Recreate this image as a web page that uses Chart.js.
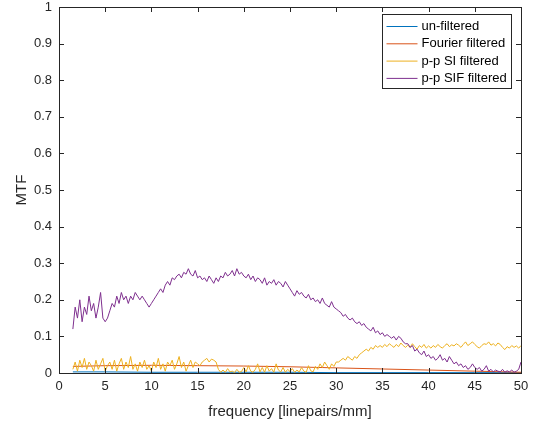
<!DOCTYPE html>
<html>
<head>
<meta charset="utf-8">
<script src="https://cdn.jsdelivr.net/npm/chart.js@4"></script>
<style>
  html, body { margin: 0; padding: 0; background: #fff; }
  #wrap { width: 537px; height: 427px; }
</style>
</head>
<body>
<div id="wrap"><canvas id="chart"></canvas></div>
<script>
// MTF curves, sampled every 0.25 lp/mm starting at 1.5 lp/mm
const freqStart = 1.5;
const freqStep = 0.25;

const sifFiltered = [
    0.12, 0.18, 0.15, 0.20, 0.14, 0.18, 0.16, 0.21, 0.17, 0.19, 0.15, 0.18, 0.22, 0.15, 0.14,
    0.15, 0.17, 0.19, 0.18, 0.21, 0.19, 0.22, 0.20, 0.21, 0.19,
    0.21, 0.20, 0.22, 0.21, 0.20, 0.21, 0.20, 0.19, 0.18, 0.19,
    0.20, 0.21, 0.22, 0.23, 0.22, 0.24, 0.25, 0.24, 0.26, 0.255,
    0.265, 0.27, 0.26, 0.275, 0.27, 0.285, 0.27, 0.265, 0.28, 0.26,
    0.265, 0.255, 0.26, 0.25, 0.265, 0.255, 0.245, 0.26, 0.25, 0.265,
    0.26, 0.275, 0.265, 0.27, 0.28, 0.265, 0.285, 0.27, 0.275, 0.265,
    0.26, 0.27, 0.255, 0.265, 0.25, 0.26, 0.255, 0.245, 0.26, 0.24,
    0.25, 0.245, 0.255, 0.24, 0.25, 0.245, 0.235, 0.25, 0.24, 0.23,
    0.22, 0.21, 0.225, 0.215, 0.22, 0.21, 0.205, 0.215, 0.20, 0.205,
    0.195, 0.20, 0.19, 0.205, 0.19, 0.185, 0.18, 0.195, 0.18, 0.175,
    0.17, 0.165, 0.155, 0.16, 0.15, 0.145, 0.15, 0.14, 0.135, 0.14,
    0.13, 0.135, 0.125, 0.12, 0.115, 0.125, 0.11, 0.115, 0.105, 0.11,
    0.10, 0.105, 0.10, 0.095, 0.10, 0.09, 0.10, 0.095, 0.085, 0.08,
    0.08, 0.07, 0.075, 0.06, 0.065, 0.055, 0.05, 0.06, 0.045, 0.05,
    0.04, 0.045, 0.035, 0.04, 0.05, 0.035, 0.04, 0.03, 0.045, 0.035,
    0.025, 0.03, 0.02, 0.025, 0.015, 0.02, 0.01, 0.015, 0.025, 0.015,
    0.01, 0.015, 0.005, 0.01, 0.02, 0.005, 0.01, 0.003, 0.008, 0.005,
    0.003, 0.01, 0.002, 0.006, 0.003, 0.008, 0.002, 0.005, 0.01, 0.03
];

const siFiltered = [
    0.01, 0.03, 0.005, 0.035, 0.015, 0.04, 0.01, 0.03, 0.02, 0.005, 0.035, 0.01, 0.025, 0.04, 0.005,
    0.02, 0.03, 0.01, 0.035, 0.005, 0.025, 0.04, 0.01, 0.03, 0.015,
    0.045, 0.01, 0.025, 0.005, 0.03, 0.015, 0.035, 0.01, 0.02, 0.005,
    0.03, 0.015, 0.04, 0.01, 0.025, 0.005, 0.03, 0.02, 0.035, 0.01,
    0.025, 0.045, 0.015, 0.03, 0.005, 0.02, 0.035, 0.015, 0.03, 0.025,
    0.02, 0.03, 0.035, 0.04, 0.03, 0.038, 0.035, 0.03, 0.01, 0.002,
    0.008, 0.002, 0.012, 0.003, 0.005, 0.001, 0.01, 0.002, 0.004, 0.015,
    0.003, 0.02, 0.005, 0.002, 0.01, 0.025, 0.003, 0.015, 0.002, 0.02,
    0.005, 0.012, 0.002, 0.025, 0.008, 0.003, 0.015, 0.002, 0.01, 0.004,
    0.012, 0.002, 0.008, 0.003, 0.015, 0.005, 0.002, 0.02, 0.006, 0.003,
    0.018, 0.01, 0.025, 0.015, 0.03, 0.02, 0.01, 0.025, 0.018, 0.03,
    0.03, 0.035, 0.04, 0.035, 0.045, 0.04, 0.035, 0.045, 0.04, 0.05,
    0.055, 0.06, 0.065, 0.06, 0.07, 0.065, 0.075, 0.07, 0.075, 0.07,
    0.078, 0.072, 0.08, 0.075, 0.07, 0.078, 0.072, 0.082, 0.075, 0.07,
    0.076, 0.07, 0.08, 0.072, 0.065, 0.075, 0.07, 0.078, 0.068, 0.074,
    0.068, 0.075, 0.07, 0.078, 0.072, 0.068, 0.075, 0.08, 0.072, 0.077,
    0.074, 0.08, 0.076, 0.07, 0.078, 0.085, 0.075, 0.08, 0.085, 0.078,
    0.072, 0.068, 0.075, 0.08, 0.078, 0.085, 0.076, 0.08, 0.074, 0.082,
    0.078, 0.07, 0.064, 0.072, 0.068, 0.075, 0.07, 0.074, 0.068, 0.075
];

// smooth curves, coarser sampling
const smoothFreq = [1.5, 5, 10, 15, 20, 25, 30, 35, 40, 45, 50];
const fourierFiltered = [0.018, 0.02, 0.021, 0.02, 0.019, 0.017, 0.014, 0.011, 0.008, 0.005, 0.002];
const unFiltered = [0.003, 0.003, 0.002, 0.002, 0.002, 0.002, 0.001, 0.001, 0.001, 0.001, 0.001];

const xTicks = [0, 5, 10, 15, 20, 25, 30, 35, 40, 45, 50];
const yTicks = [0, 0.1, 0.2, 0.3, 0.4, 0.5, 0.6, 0.7, 0.8, 0.9, 1];

const noisyFreq = sifFiltered.map((_, i) => freqStart + i * freqStep);
const toPoints = (xs, ys) => ys.map((y, i) => ({ x: xs[i], y: y }));

const axisColor = "#262626";
const fontFamily = "'Liberation Sans', Arial, sans-serif";

// box around the axes with inward ticks on all four sides
const boxTicks = {
    id: "boxTicks",
    afterDraw(chart) {
        const { ctx, chartArea: a, scales } = chart;
        const len = 5;
        ctx.save();
        ctx.strokeStyle = axisColor;
        ctx.lineWidth = 1;
        ctx.strokeRect(Math.round(a.left) + 0.5, Math.round(a.top) + 0.5,
            Math.round(a.right - a.left), Math.round(a.bottom - a.top));
        ctx.beginPath();
        xTicks.forEach(v => {
            const px = Math.round(scales.x.getPixelForValue(v)) + 0.5;
            ctx.moveTo(px, a.bottom); ctx.lineTo(px, a.bottom - len);
            ctx.moveTo(px, a.top); ctx.lineTo(px, a.top + len);
        });
        yTicks.forEach(v => {
            const py = Math.round(scales.y.getPixelForValue(v)) + 0.5;
            ctx.moveTo(a.left, py); ctx.lineTo(a.left + len, py);
            ctx.moveTo(a.right, py); ctx.lineTo(a.right - len, py);
        });
        ctx.stroke();
        ctx.restore();
    }
};

// legend box in the upper right corner of the axes
const boxLegend = {
    id: "boxLegend",
    afterDraw(chart) {
        const { ctx, chartArea: a } = chart;
        const sets = chart.data.datasets;
        ctx.save();
        ctx.font = "13px " + fontFamily;
        const textW = Math.max(...sets.map(d => ctx.measureText(d.label).width));
        const lineLen = 31, gap = 4, rowH = 17.3;
        const w = Math.round(4 + lineLen + gap + textW + 5);
        const h = Math.round(rowH * sets.length + 5);
        const x0 = Math.round(a.right - 10 - w) + 0.5;
        const y0 = Math.round(a.top + 7) + 0.5;
        ctx.fillStyle = "#fff";
        ctx.fillRect(x0, y0, w, h);
        ctx.strokeStyle = axisColor;
        ctx.lineWidth = 1;
        ctx.strokeRect(x0, y0, w, h);
        ctx.textBaseline = "middle";
        sets.forEach((d, i) => {
            const cy = y0 + 12 + i * rowH;
            ctx.strokeStyle = d.borderColor;
            ctx.beginPath();
            ctx.moveTo(x0 + 4, cy); ctx.lineTo(x0 + 4 + lineLen, cy);
            ctx.stroke();
            ctx.fillStyle = "#000";
            ctx.fillText(d.label, x0 + 4 + lineLen + gap, cy);
        });
        ctx.restore();
    }
};

const line = (label, color, pts, order) => ({
    label: label,
    data: pts,
    borderColor: color,
    backgroundColor: color,
    borderWidth: 1,
    pointRadius: 0,
    tension: 0,
    order: order
});

new Chart(document.getElementById("chart"), {
    type: "line",
    data: {
        datasets: [
            line("un-filtered", "#0072BD", toPoints(smoothFreq, unFiltered), 4),
            line("Fourier filtered", "#D95319", toPoints(smoothFreq, fourierFiltered), 3),
            line("p-p SI filtered", "#EDB120", toPoints(noisyFreq, siFiltered), 2),
            line("p-p SIF filtered", "#7E2F8E", toPoints(noisyFreq, sifFiltered), 1)
        ]
    },
    options: {
        responsive: true,
        maintainAspectRatio: false,
        animation: false,
        layout: { padding: { left: 0, right: 16, top: 7, bottom: 0 } },
        plugins: {
            legend: { display: false },
            tooltip: { enabled: false }
        },
        scales: {
            x: {
                type: "linear",
                min: 0,
                max: 50,
                afterFit: s => { s.height = 54; s.paddingLeft = 0; s.paddingRight = 0; },
                afterBuildTicks: s => { s.ticks = xTicks.map(v => ({ value: v })); },
                grid: { drawOnChartArea: false, drawTicks: false },
                border: { display: false },
                ticks: { color: axisColor, padding: 6, maxRotation: 0, font: { family: fontFamily, size: 13 } },
                title: {
                    display: true,
                    text: "frequency [linepairs/mm]",
                    color: axisColor,
                    padding: { top: 4, bottom: 6 },
                    font: { family: fontFamily, size: 15 }
                }
            },
            y: {
                min: 0,
                max: 1,
                afterFit: s => { s.width = 59; s.paddingTop = 0; s.paddingBottom = 0; },
                afterBuildTicks: s => { s.ticks = yTicks.map(v => ({ value: v })); },
                grid: { drawOnChartArea: false, drawTicks: false },
                border: { display: false },
                ticks: {
                    color: axisColor,
                    padding: 7,
                    font: { family: fontFamily, size: 13 },
                    callback: v => String(Number(v.toFixed(1)))
                },
                title: {
                    display: true,
                    text: "MTF",
                    color: axisColor,
                    padding: { top: 13, bottom: 0 },
                    font: { family: fontFamily, size: 15 }
                }
            }
        }
    },
    plugins: [boxTicks, boxLegend]
});
</script>
</body>
</html>
